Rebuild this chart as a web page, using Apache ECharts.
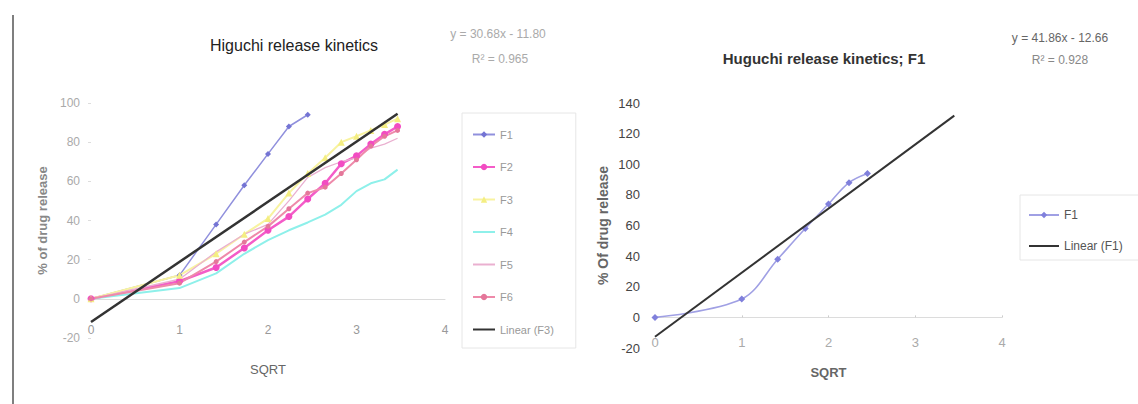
<!DOCTYPE html>
<html>
<head>
<meta charset="utf-8">
<title>Higuchi release kinetics</title>
<script src="https://cdn.jsdelivr.net/npm/echarts@6/dist/echarts.min.js"></script>
<style>
  html, body { margin: 0; padding: 0; background: #ffffff; }
  #chart { width: 1138px; height: 404px; }
</style>
</head>
<body>
<div id="chart"></div>
<script>
// Square root of time (hours) sampling points
const sqrtTime = [0, 1, 1.414, 1.732, 2, 2.236, 2.449, 2.646, 2.828, 3, 3.162, 3.317, 3.464];

// Cumulative % drug release per formulation
const f1 = [0, 12, 38, 58, 74, 88, 94];
const f2 = [0, 9, 16, 26, 35, 42, 51, 59, 69, 73, 79, 84, 88];
const f3 = [0, 12, 23, 33, 41, 54, 64, 72, 80, 83, 86, 89, 92];
const f4 = [0, 5.5, 13, 23, 30, 35, 39, 43, 48, 55, 59, 61, 66];
const f5 = [0, 10, 24, 33, 38, 50, 62, 67, 70, 72, 77, 79, 82];
const f6 = [0, 8, 19, 29, 37, 46, 54, 57, 64, 71, 78, 83, 86];

// Least-squares fits (y = slope * x + intercept)
const fitF3 = { slope: 30.68, intercept: -11.80, r2: 0.965, xEnd: 3.464 };
const fitF1 = { slope: 41.86, intercept: -12.66, r2: 0.928, xEnd: 3.45 };

// Axis ticks
const xTicks = [0, 1, 2, 3, 4];
const yTicksLeft = [-20, 0, 20, 40, 60, 80, 100];
const yTicksRight = [-20, 0, 20, 40, 60, 80, 100, 120, 140];

const narrow = "'Liberation Sans Narrow', 'Liberation Sans', Arial, sans-serif";
const sans = "'Liberation Sans', Arial, sans-serif";

function pairs(values) {
  return values.map((v, i) => [sqrtTime[i], v]);
}
function fitLine(fit) {
  return [0, fit.xEnd].map(x => [x, +(fit.slope * x + fit.intercept).toFixed(3)]);
}
function eqText(fit) {
  const sign = fit.intercept < 0 ? ' - ' : ' + ';
  return 'y = ' + fit.slope.toFixed(2) + 'x' + sign + Math.abs(fit.intercept).toFixed(2);
}

// legend entries for plain lines: hide the marker in the legend icon
const noMarker = { color: 'rgba(0,0,0,0)', borderWidth: 0 };

const chart = echarts.init(document.getElementById('chart'), null, { renderer: 'svg' });

const option = {
  backgroundColor: '#ffffff',
  animation: false,
  graphic: [
    { type: 'line', shape: { x1: 13, y1: 15, x2: 13, y2: 404 }, style: { stroke: '#555', lineWidth: 1.5 } },
    { type: 'text', x: 294, y: 45, style: { text: 'Higuchi release kinetics', font: '16px ' + narrow, fill: '#222', align: 'center', verticalAlign: 'middle' } },
    { type: 'text', x: 498, y: 34, style: { text: eqText(fitF3), font: '12px ' + narrow, fill: '#aaa', align: 'center', verticalAlign: 'middle' } },
    { type: 'text', x: 500, y: 59, style: { text: 'R\u00b2 = ' + fitF3.r2.toFixed(3), font: '12px ' + narrow, fill: '#aaa', align: 'center', verticalAlign: 'middle' } },
    { type: 'text', x: 824, y: 58, style: { text: 'Huguchi release kinetics; F1', font: 'bold 15px ' + sans, fill: '#333', align: 'center', verticalAlign: 'middle' } },
    { type: 'text', x: 1060, y: 38, style: { text: eqText(fitF1), font: '12px ' + sans, fill: '#666', align: 'center', verticalAlign: 'middle' } },
    { type: 'text', x: 1060, y: 60, style: { text: 'R\u00b2 = ' + fitF1.r2.toFixed(3), font: '12px ' + sans, fill: '#888', align: 'center', verticalAlign: 'middle' } }
  ],
  legend: [
    {
      orient: 'vertical', left: 462, top: 113,
      padding: [16, 22, 13, 10], itemGap: 21.5, itemWidth: 22, itemHeight: 8,
      borderColor: '#e6e6e6', borderWidth: 1,
      textStyle: { color: '#999', fontSize: 11, fontFamily: narrow },
      data: [
        { name: 'F1' }, { name: 'F2' }, { name: 'F3' },
        { name: 'F4', itemStyle: noMarker },
        { name: 'F5', itemStyle: noMarker },
        { name: 'F6' },
        { name: 'Linear (F3)', itemStyle: noMarker }
      ]
    },
    {
      orient: 'vertical', left: 1020, top: 195,
      padding: [14, 20, 8, 8], itemGap: 19, itemWidth: 30, itemHeight: 8,
      borderColor: '#e6e6e6', borderWidth: 1,
      textStyle: { color: '#555', fontSize: 12, fontFamily: sans },
      data: [{ name: 'F1 ' }, { name: 'Linear (F1)', itemStyle: noMarker }]
    }
  ],
  grid: [
    { left: 91, top: 103, width: 354, height: 235, outerBoundsMode: 'none', containLabel: false },
    { left: 655, top: 103, width: 347, height: 245, outerBoundsMode: 'none', containLabel: false }
  ],
  xAxis: [
    {
      gridIndex: 0, type: 'value', min: xTicks[0], max: xTicks[xTicks.length - 1], interval: 1,
      axisLine: { onZero: true, lineStyle: { color: '#dcdcdc', width: 1 } },
      axisTick: { show: false },
      splitLine: { show: false },
      axisLabel: { margin: -14, color: '#999', fontSize: 12, fontFamily: narrow },
      name: 'SQRT', nameLocation: 'middle', nameGap: 25,
      nameTextStyle: { color: '#666', fontSize: 13, fontFamily: narrow }
    },
    {
      gridIndex: 1, type: 'value', min: xTicks[0], max: xTicks[xTicks.length - 1], interval: 1,
      axisLine: { onZero: true, lineStyle: { color: '#dcdcdc', width: 1 } },
      axisTick: { show: true, inside: true, length: 2, lineStyle: { color: '#ccc' } },
      splitLine: { show: false },
      axisLabel: { margin: -12, color: '#aaa', fontSize: 13, fontFamily: sans },
      name: 'SQRT', nameLocation: 'middle', nameGap: 18,
      nameTextStyle: { color: '#666', fontSize: 13, fontWeight: 'bold', fontFamily: sans }
    }
  ],
  yAxis: [
    {
      gridIndex: 0, type: 'value', min: yTicksLeft[0], max: yTicksLeft[yTicksLeft.length - 1], interval: 20,
      axisLine: { show: false },
      axisTick: { show: true, length: 3, lineStyle: { color: '#ddd' } },
      splitLine: { show: false },
      axisLabel: { margin: 11, color: '#aaa', fontSize: 12, fontFamily: narrow },
      name: '% of drug release', nameLocation: 'middle', nameGap: 42,
      nameTextStyle: { color: '#888', fontSize: 13, fontWeight: 'bold', fontFamily: sans }
    },
    {
      gridIndex: 1, type: 'value', min: yTicksRight[0], max: yTicksRight[yTicksRight.length - 1], interval: 20,
      axisLine: { show: false },
      axisTick: { show: false },
      splitLine: { show: false },
      axisLabel: { margin: 15, color: '#444', fontSize: 13, fontFamily: sans },
      name: '% Of drug release', nameLocation: 'middle', nameGap: 45,
      nameTextStyle: { color: '#666', fontSize: 14, fontWeight: 'bold', fontFamily: sans }
    }
  ],
  series: [
    {
      name: 'F1', type: 'line', xAxisIndex: 0, yAxisIndex: 0, data: pairs(f1),
      symbol: 'diamond', symbolSize: 6, z: 3,
      lineStyle: { color: '#9090dd', width: 1.5 }, itemStyle: { color: '#7474d4' }
    },
    {
      name: 'F2', type: 'line', xAxisIndex: 0, yAxisIndex: 0, data: pairs(f2),
      symbol: 'circle', symbolSize: 7,
      lineStyle: { color: '#f45cc8', width: 2.5 }, itemStyle: { color: '#f24cc2' }
    },
    {
      name: 'F3', type: 'line', xAxisIndex: 0, yAxisIndex: 0, data: pairs(f3),
      symbol: 'triangle', symbolSize: 7,
      lineStyle: { color: '#f8f3a0', width: 2 }, itemStyle: { color: '#f4ee82' }
    },
    {
      name: 'F4', type: 'line', xAxisIndex: 0, yAxisIndex: 0, data: pairs(f4),
      symbol: 'none',
      lineStyle: { color: '#8ef0ea', width: 2 }, itemStyle: { color: '#8ef0ea' }
    },
    {
      name: 'F5', type: 'line', xAxisIndex: 0, yAxisIndex: 0, data: pairs(f5),
      symbol: 'none',
      lineStyle: { color: '#eab0d0', width: 1.3 }, itemStyle: { color: '#eab0d0' }
    },
    {
      name: 'F6', type: 'line', xAxisIndex: 0, yAxisIndex: 0, data: pairs(f6),
      symbol: 'circle', symbolSize: 5,
      lineStyle: { color: '#ee8aaa', width: 2 }, itemStyle: { color: '#e4779a' }
    },
    {
      name: 'Linear (F3)', type: 'line', xAxisIndex: 0, yAxisIndex: 0, data: fitLine(fitF3),
      symbol: 'none', z: 4,
      lineStyle: { color: '#333', width: 2.5 }, itemStyle: { color: '#333' }
    },
    {
      name: 'F1 ', type: 'line', xAxisIndex: 1, yAxisIndex: 1, data: pairs(f1),
      symbol: 'diamond', symbolSize: 7, smooth: 0.35, z: 3,
      lineStyle: { color: '#a0a0e4', width: 1.6 }, itemStyle: { color: '#8080dc' }
    },
    {
      name: 'Linear (F1)', type: 'line', xAxisIndex: 1, yAxisIndex: 1, data: fitLine(fitF1),
      symbol: 'none', z: 4,
      lineStyle: { color: '#333', width: 2 }, itemStyle: { color: '#333' }
    }
  ]
};

chart.setOption(option);
</script>
</body>
</html>
